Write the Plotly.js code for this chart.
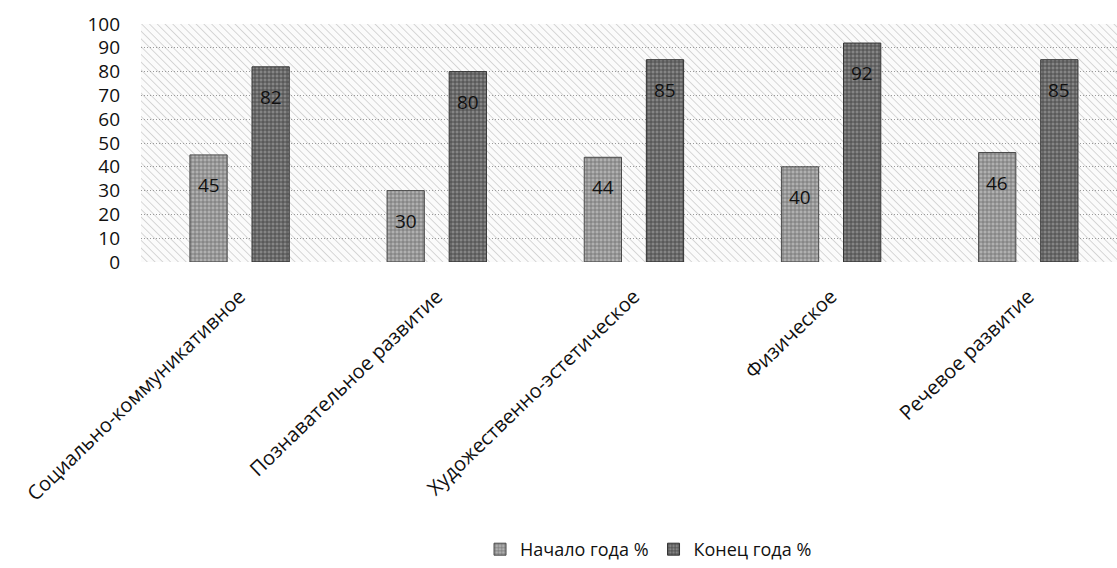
<!DOCTYPE html>
<html>
<head>
<meta charset="utf-8">
<script src="https://cdn.plot.ly/plotly-3.0.1.min.js"></script>
<style>html,body{margin:0;padding:0;background:#fff;} #chart{width:1117px;height:568px;}</style>
</head>
<body>
<div id="chart"></div>
<script>
const categories = ['Социально-коммуникативное', 'Познавательное развитие', 'Художественно-эстетическое', 'Физическое', 'Речевое развитие'];
const startValues = [45, 30, 44, 40, 46];
const endValues = [82, 80, 85, 92, 85];
const seriesNames = ['Начало года %', 'Конец года %'];
const yTicks = [0, 10, 20, 30, 40, 50, 60, 70, 80, 90, 100];

const W = 976, H = 239;
const hatch = '<svg xmlns="http://www.w3.org/2000/svg" width="' + W + '" height="' + H + '" viewBox="0 0 ' + W + ' ' + H + '" preserveAspectRatio="none">' +
  '<defs><pattern id="p" patternUnits="userSpaceOnUse" width="5.5" height="5.5" patternTransform="rotate(-45)">' +
  '<line x1="0" y1="0" x2="0" y2="5.5" stroke="#b8b8b8" stroke-width="1.1"/></pattern></defs>' +
  '<rect width="100%" height="100%" fill="#fbfbfb"/><rect width="100%" height="100%" fill="url(#p)"/></svg>';
const hatchSrc = 'data:image/svg+xml;charset=utf-8,' + encodeURIComponent(hatch);

const FONT = '"Open Sans", "DejaVu Sans", sans-serif';

const traces = [
  {
    type: 'bar', name: seriesNames[0], x: categories, y: startValues,
    marker: { color: '#a4a4a4', line: { color: '#4a4a4a', width: 1 },
      pattern: { shape: '+', fgcolor: '#6e6e6e', bgcolor: '#b0b0b0', size: 4, solidity: 0.35 } },
    hoverinfo: 'x+y'
  },
  {
    type: 'bar', name: seriesNames[1], x: categories, y: endValues,
    marker: { color: '#727272', line: { color: '#333333', width: 1 },
      pattern: { shape: '+', fgcolor: '#474747', bgcolor: '#858585', size: 4, solidity: 0.4 } },
    hoverinfo: 'x+y'
  }
];

const annotations = [];
startValues.forEach((v, i) => annotations.push({
  x: categories[i], y: v, xref: 'x', yref: 'y', text: String(v), showarrow: false,
  xshift: -31, yshift: -15, yanchor: 'top', font: { family: FONT, size: 19, color: '#111' }
}));
endValues.forEach((v, i) => annotations.push({
  x: categories[i], y: v, xref: 'x', yref: 'y', text: String(v), showarrow: false,
  xshift: 31, yshift: -15, yanchor: 'top', font: { family: FONT, size: 19, color: '#111' }
}));

const layout = {
  width: 1117, height: 568,
  margin: { l: 141, r: 0, t: 24, b: 305, pad: 0 },
  paper_bgcolor: '#ffffff',
  plot_bgcolor: 'rgba(0,0,0,0)',
  font: { family: FONT, color: '#111' },
  barmode: 'group',
  bargap: 0.37,
  bargroupgap: 0.4,
  showlegend: true,
  legend: {
    orientation: 'h', x: 0.52, xanchor: 'center', y: -1.21, yanchor: 'middle',
    font: { family: FONT, size: 18, color: '#111' }, itemwidth: 30, traceorder: 'normal'
  },
  xaxis: {
    type: 'category', range: [-0.5, 4.45],
    tickangle: -44, tickfont: { family: FONT, size: 20, color: '#111' },
    showgrid: false, zeroline: false, showline: false, ticks: '',
    ticklabelstandoff: 18
  },
  yaxis: {
    range: [0, 100], tickvals: yTicks, ticktext: yTicks.map(String),
    tickfont: { family: FONT, size: 19, color: '#111' },
    showgrid: true, gridcolor: '#9a9a9a', griddash: '1px,2px', gridwidth: 1,
    zeroline: false, showline: false, ticks: '', ticklabelstandoff: 20
  },
  images: [{
    source: hatchSrc, xref: 'paper', yref: 'paper', x: 0, y: 1, sizex: 1, sizey: 1,
    sizing: 'stretch', xanchor: 'left', yanchor: 'top', layer: 'below'
  }],
  annotations: annotations
};

Plotly.newPlot('chart', traces, layout, { displayModeBar: false, staticPlot: true });
</script>
</body>
</html>
